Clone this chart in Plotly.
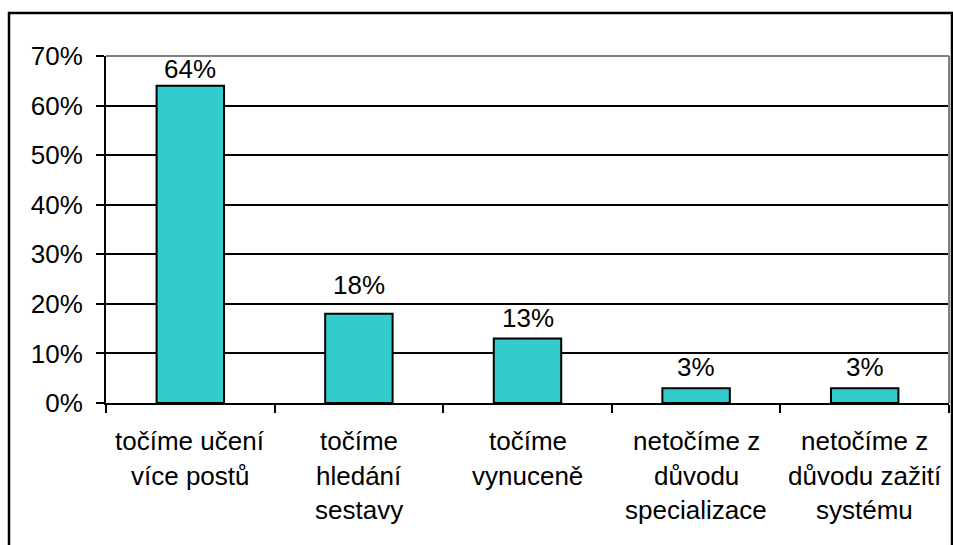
import plotly.graph_objects as go

categories = ["točíme učení více postů", "točíme hledání sestavy", "točíme vynuceně",
              "netočíme z důvodu specializace", "netočíme z důvodu zažití systému"]
label_lines = [["točíme učení", "více postů"],
               ["točíme", "hledání", "sestavy"],
               ["točíme", "vynuceně"],
               ["netočíme z", "důvodu", "specializace"],
               ["netočíme z", "důvodu zažití", "systému"]]
values = [0.64, 0.18, 0.13, 0.03, 0.03]
y_ticks = [0, 0.1, 0.2, 0.3, 0.4, 0.5, 0.6, 0.7]

FONT = "Liberation Sans, Arial, sans-serif"
FS = 26
label_gap_px = [0, 12, 4, 4, 4]  # style: pixel gap of value labels above bars

fig = go.Figure()
fig.add_trace(go.Bar(
    x=categories, y=values, width=0.4,
    marker=dict(color="#33CCCC", line=dict(color="black", width=2)),
    hoverinfo="x+y",
))

annotations = []
for cat, v, g in zip(categories, values, label_gap_px):
    annotations.append(dict(
        x=cat, y=v, xref="x", yref="y", text=f"{v:.0%}", showarrow=False,
        yanchor="bottom", xanchor="center", yshift=g,
        font=dict(family=FONT, size=FS, color="black"),
    ))
for cat, lines in zip(categories, label_lines):
    for i, line in enumerate(lines):
        annotations.append(dict(
            x=cat, y=0, xref="x", yref="y", text=line, showarrow=False,
            yanchor="middle", xanchor="center", yshift=-(38 + 34.5 * i),
            font=dict(family=FONT, size=FS, color="black"),
        ))

L, R, T, B = 106, 4, 56, 142
W, H = 953, 545
pw, ph = W - L - R, H - T - B

shapes = [
    # outer chart border
    dict(type="rect", xref="paper", yref="paper",
         x0=(9 - L) / pw, x1=(952 - L) / pw, y0=-0.6, y1=1 + (T - 13) / ph,
         line=dict(color="black", width=2.5), layer="below"),
    # plot-area border top/right (gray)
    dict(type="line", xref="paper", yref="paper", x0=0, x1=1, y0=1, y1=1,
         line=dict(color="#808080", width=2)),
    dict(type="line", xref="paper", yref="paper", x0=1, x1=1, y0=0, y1=1,
         line=dict(color="#808080", width=2)),
]

fig.update_layout(
    width=W, height=H,
    margin=dict(l=L, r=R, t=T, b=B),
    paper_bgcolor="white", plot_bgcolor="white",
    showlegend=False,
    font=dict(family=FONT, size=FS, color="black"),
    annotations=annotations,
    shapes=shapes,
    bargap=0.6,
)
fig.update_xaxes(
    type="category", showticklabels=False, tickson="boundaries",
    ticks="outside", ticklen=8, tickwidth=2, tickcolor="black",
    showline=True, linecolor="black", linewidth=2, showgrid=False,
)
fig.update_yaxes(
    range=[0, 0.7], tickvals=y_ticks, tickformat=".0%",
    ticks="outside", ticklen=8, tickwidth=2, tickcolor="black",
    showline=True, linecolor="black", linewidth=2,
    showgrid=True, gridcolor="black", gridwidth=2,
    zeroline=False, ticklabelstandoff=8,
    tickfont=dict(family=FONT, size=FS, color="black"),
)

fig.write_html("out.html", config={"displayModeBar": False},
               post_script="document.body.style.margin='0';document.body.style.overflow='hidden';")
